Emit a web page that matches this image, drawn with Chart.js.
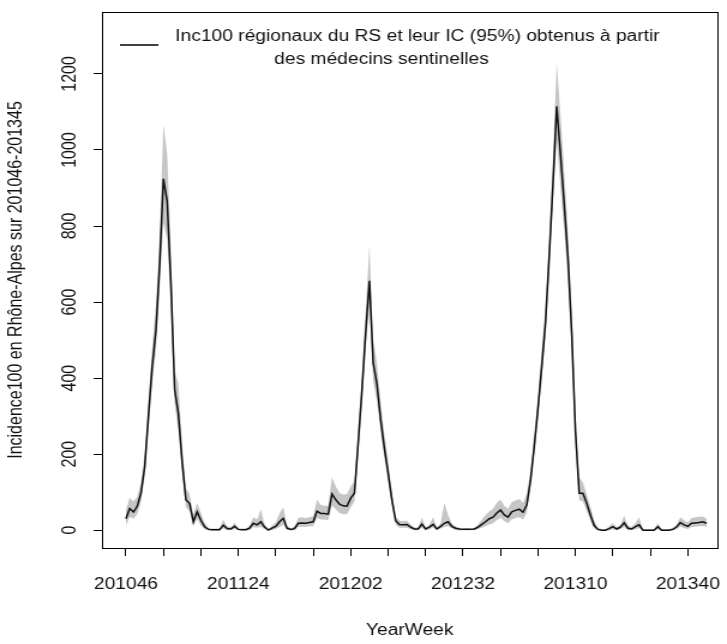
<!DOCTYPE html>
<html>
<head>
<meta charset="utf-8">
<script src="https://cdn.jsdelivr.net/npm/chart.js@4/dist/chart.umd.min.js"></script>
<style>
  body { margin: 0; background: #fff; }
</style>
</head>
<body>
<!-- drawn narrower then stretched, the original picture is widened -->
<canvas id="chart" width="606" height="644" style="width:727px;height:644px"></canvas>
<script>
// week labels 201046 .. 201345
let weeks = [];
[[2010, 46, 52], [2011, 1, 52], [2012, 1, 52], [2013, 1, 45]].forEach(([yr, from, to]) => {
    for (let w = from; w <= to; w++) weeks.push(yr + String(w).padStart(2, "0"));
});

let inc100 = [
    30, 57, 48, 62, 97, 166, 300, 430, 525, 700,
    924, 865, 650, 370, 305, 180, 80, 70, 22, 48,
    26, 9, 2, 1, 1, 1, 13, 4, 3, 10,
    2, 1, 1, 5, 18, 14, 22, 8, 0, 5,
    10, 22, 31, 5, 2, 4, 18, 19, 18, 20,
    22, 50, 44, 44, 42, 95, 80, 68, 64, 63,
    84, 97, 230, 367, 520, 656, 440, 385, 290, 215,
    150, 80, 25, 15, 14, 15, 8, 3, 3, 16,
    3, 8, 15, 3, 10, 18, 22, 10, 5, 3,
    2, 2, 2, 3, 8, 15, 22, 30, 34, 45,
    53, 40, 34, 48, 52, 55, 47, 66, 130, 220,
    320, 430, 545, 720, 910, 1115, 990, 858, 717, 520,
    260, 97, 97, 71, 40, 12, 2, 0, 0, 4,
    9, 3, 8, 19, 5, 3, 9, 14, 0, 0,
    0, 0, 9, 0, 0, 0, 2, 8, 20, 14,
    10, 18, 19, 20, 22, 18
];

let icLow = [
    12, 35, 30, 42, 75, 140, 265, 385, 470, 635,
    810, 765, 580, 330, 260, 150, 60, 50, 10, 30,
    12, 2, 0, 0, 0, 0, 4, 0, 0, 3,
    0, 0, 0, 0, 8, 6, 8, 2, 0, 0,
    3, 8, 14, 0, 0, 0, 8, 9, 8, 10,
    10, 32, 28, 28, 26, 65, 55, 45, 42, 42,
    60, 75, 200, 330, 475, 595, 390, 340, 258, 188,
    125, 62, 14, 6, 6, 6, 2, 0, 0, 6,
    0, 2, 6, 0, 4, 8, 10, 4, 0, 0,
    0, 0, 0, 0, 2, 6, 10, 15, 18, 26,
    32, 24, 18, 28, 32, 34, 28, 46, 115, 200,
    295, 400, 510, 685, 865, 1025, 905, 785, 655, 475,
    230, 78, 75, 50, 24, 4, 0, 0, 0, 0,
    2, 0, 2, 8, 0, 0, 2, 5, 0, 0,
    0, 0, 2, 0, 0, 0, 0, 2, 10, 5,
    3, 8, 9, 10, 11, 8
];

let icHigh = [
    55, 85, 75, 88, 125, 200, 340, 480, 590, 775,
    1068, 990, 735, 420, 385, 225, 110, 95, 40, 72,
    45, 20, 6, 4, 4, 5, 28, 10, 8, 20,
    5, 4, 4, 12, 34, 28, 55, 16, 3, 12,
    20, 44, 60, 12, 5, 10, 32, 34, 32, 34,
    38, 80, 66, 64, 64, 140, 115, 98, 94, 95,
    115, 128, 265, 410, 580, 750, 500, 440, 335, 255,
    180, 100, 36, 25, 24, 25, 15, 7, 7, 34,
    7, 15, 34, 7, 18, 72, 40, 18, 10, 6,
    4, 4, 4, 6, 15, 28, 40, 50, 56, 72,
    80, 64, 56, 74, 78, 82, 72, 95, 160, 255,
    355, 475, 595, 775, 985, 1230, 1095, 945, 785, 585,
    305, 140, 125, 95, 60, 26, 6, 3, 3, 10,
    18, 8, 15, 38, 12, 8, 18, 34, 3, 3,
    3, 3, 18, 3, 3, 3, 6, 15, 34, 26,
    20, 32, 34, 35, 36, 30
];

let yTicks = [0, 200, 400, 600, 800, 1000, 1200];
let xTickStep = 10;
let xLabelStep = 30;

let legendLines = ["Inc100 régionaux du RS et leur IC (95%) obtenus à partir", "des médecins sentinelles"];
let xTitle = "YearWeek";
let yTitle = "Incidence100 en Rhône-Alpes sur 201046-201345";

let font = "'Liberation Sans', Arial, sans-serif";
let toPoints = arr => arr.map((v, i) => ({ x: i, y: v }));

// box round the plot + the legend
let boxPlugin = {
    id: "box",
    afterDraw(c) {
        let ctx = c.ctx;
        let a = c.chartArea;
        ctx.save();
        ctx.strokeStyle = "#000";
        ctx.lineWidth = 1;
        ctx.strokeRect(a.left + 0.5, a.top + 0.5, a.right - a.left, a.bottom - a.top);

        ctx.lineWidth = 1.5;
        ctx.beginPath();
        ctx.moveTo(100, 45);
        ctx.lineTo(132, 45);
        ctx.stroke();

        ctx.fillStyle = "#111";
        ctx.font = "16px " + font;
        ctx.textAlign = "center";
        ctx.textBaseline = "middle";
        ctx.fillText(legendLines[0], 348, 37);
        ctx.fillText(legendLines[1], 318, 60);
        ctx.restore();
    }
};

let ctx = document.getElementById("chart").getContext("2d");
let chart = new Chart(ctx, {
    type: "line",
    data: {
        // datasets are painted last-first, so the line goes first
        datasets: [
            {
                label: legendLines.join(" "),
                data: toPoints(inc100),
                borderColor: "#111",
                borderWidth: 1.5,
                pointRadius: 0,
                fill: false
            },
            {
                label: "low",
                data: toPoints(icLow),
                borderWidth: 0,
                pointRadius: 0,
                fill: false
            },
            {
                label: "high",
                data: toPoints(icHigh),
                borderWidth: 0,
                pointRadius: 0,
                backgroundColor: "#c6c6c6",
                fill: "-1"
            }
        ]
    },
    options: {
        responsive: false,
        animation: false,
        layout: { padding: { top: 12, right: 8, left: 0, bottom: 0 } },
        plugins: {
            legend: { display: false },
            tooltip: { enabled: false }
        },
        scales: {
            x: {
                type: "linear",
                min: -6.4,
                max: 157.9,
                afterFit: s => {
                    s.height = 96;
                    s.paddingLeft = 0;
                    s.paddingRight = 0;
                },
                afterBuildTicks: s => {
                    let t = [];
                    for (let v = 0; v < weeks.length; v += xTickStep) t.push({ value: v });
                    s.ticks = t;
                },
                ticks: {
                    autoSkip: false,
                    maxRotation: 0,
                    padding: 19,
                    color: "#111",
                    font: { family: font, size: 16 },
                    callback: v => (v % xLabelStep === 0 ? weeks[v] : "")
                },
                grid: { drawOnChartArea: false, tickLength: 8, color: "#000" },
                border: { color: "#000" },
                title: {
                    display: true,
                    text: xTitle,
                    color: "#111",
                    font: { family: font, size: 16 },
                    padding: 4
                }
            },
            y: {
                min: -47,
                max: 1363,
                afterFit: s => {
                    s.width = 85;
                    s.paddingTop = 0;
                    s.paddingBottom = 0;
                },
                afterBuildTicks: s => { s.ticks = yTicks.map(v => ({ value: v })); },
                ticks: {
                    minRotation: 90,
                    maxRotation: 90,
                    crossAlign: "center",
                    padding: 2,
                    color: "#111",
                    font: { family: font, size: 16 },
                    callback: v => String(v)
                },
                grid: { drawOnChartArea: false, tickLength: 7, color: "#000" },
                border: { color: "#000" },
                title: {
                    display: true,
                    text: yTitle,
                    color: "#111",
                    font: { family: font, size: 16 },
                    padding: 4
                }
            }
        }
    },
    plugins: [boxPlugin]
});
</script>
</body>
</html>
